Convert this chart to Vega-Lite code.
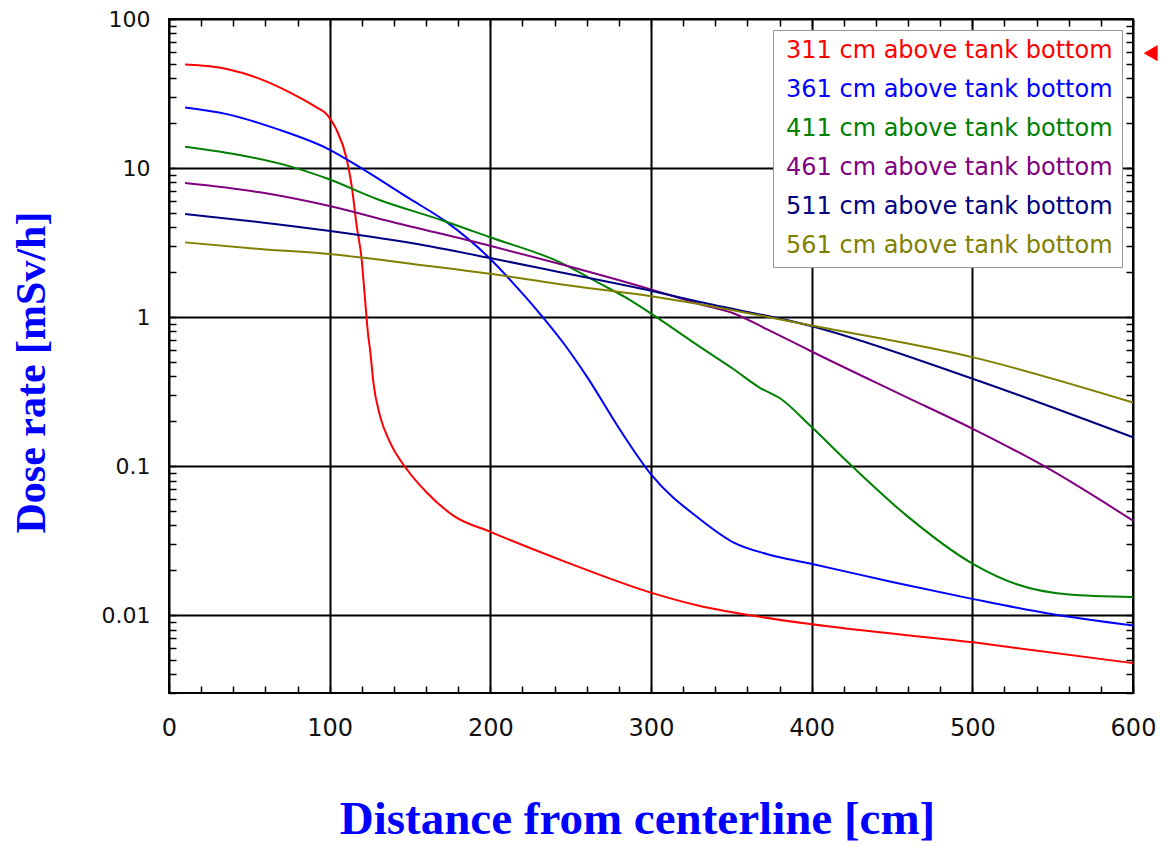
{
  "$schema": "https://vega.github.io/schema/vega-lite/v6.json",
  "width": 964,
  "height": 674,
  "autosize": {"type": "none"},
  "padding": {"left": 169, "top": 19, "right": 28, "bottom": 153},
  "background": "white",
  "config": {
    "view": {"stroke": "black", "strokeWidth": 2},
    "axis": {"domain": false, "labelOverlap": false, "labelBound": false, "labelFlush": false}
  },
  "datasets": {
    "curves": [
      {"x": 10, "y": 49.5, "s": "311 cm above tank bottom"},
      {"x": 36, "y": 46.2, "s": "311 cm above tank bottom"},
      {"x": 57, "y": 39.5, "s": "311 cm above tank bottom"},
      {"x": 77, "y": 31.4, "s": "311 cm above tank bottom"},
      {"x": 90, "y": 26.2, "s": "311 cm above tank bottom"},
      {"x": 99, "y": 22.4, "s": "311 cm above tank bottom"},
      {"x": 104, "y": 18.3, "s": "311 cm above tank bottom"},
      {"x": 110.6, "y": 11.5, "s": "311 cm above tank bottom"},
      {"x": 113.7, "y": 7.6, "s": "311 cm above tank bottom"},
      {"x": 116.8, "y": 4.1, "s": "311 cm above tank bottom"},
      {"x": 119.9, "y": 2.45, "s": "311 cm above tank bottom"},
      {"x": 122, "y": 1.32, "s": "311 cm above tank bottom"},
      {"x": 124, "y": 0.75, "s": "311 cm above tank bottom"},
      {"x": 125.1, "y": 0.61, "s": "311 cm above tank bottom"},
      {"x": 127.2, "y": 0.365, "s": "311 cm above tank bottom"},
      {"x": 131.3, "y": 0.218, "s": "311 cm above tank bottom"},
      {"x": 137.6, "y": 0.144, "s": "311 cm above tank bottom"},
      {"x": 147.9, "y": 0.0955, "s": "311 cm above tank bottom"},
      {"x": 160.4, "y": 0.0665, "s": "311 cm above tank bottom"},
      {"x": 177, "y": 0.0465, "s": "311 cm above tank bottom"},
      {"x": 200.8, "y": 0.0359, "s": "311 cm above tank bottom"},
      {"x": 247.5, "y": 0.0226, "s": "311 cm above tank bottom"},
      {"x": 299.4, "y": 0.0142, "s": "311 cm above tank bottom"},
      {"x": 330.5, "y": 0.0115, "s": "311 cm above tank bottom"},
      {"x": 363.7, "y": 0.0099, "s": "311 cm above tank bottom"},
      {"x": 399, "y": 0.0087, "s": "311 cm above tank bottom"},
      {"x": 500.6, "y": 0.00656, "s": "311 cm above tank bottom"},
      {"x": 600, "y": 0.00476, "s": "311 cm above tank bottom"},

      {"x": 10, "y": 25.5, "s": "361 cm above tank bottom"},
      {"x": 36, "y": 23.0, "s": "361 cm above tank bottom"},
      {"x": 67, "y": 18.3, "s": "361 cm above tank bottom"},
      {"x": 99.2, "y": 13.4, "s": "361 cm above tank bottom"},
      {"x": 118.9, "y": 10.1, "s": "361 cm above tank bottom"},
      {"x": 150, "y": 6.2, "s": "361 cm above tank bottom"},
      {"x": 172, "y": 4.4, "s": "361 cm above tank bottom"},
      {"x": 200, "y": 2.45, "s": "361 cm above tank bottom"},
      {"x": 215, "y": 1.65, "s": "361 cm above tank bottom"},
      {"x": 230, "y": 1.08, "s": "361 cm above tank bottom"},
      {"x": 245, "y": 0.68, "s": "361 cm above tank bottom"},
      {"x": 260, "y": 0.40, "s": "361 cm above tank bottom"},
      {"x": 280, "y": 0.18, "s": "361 cm above tank bottom"},
      {"x": 300, "y": 0.088, "s": "361 cm above tank bottom"},
      {"x": 330.5, "y": 0.044, "s": "361 cm above tank bottom"},
      {"x": 351.2, "y": 0.0308, "s": "361 cm above tank bottom"},
      {"x": 372, "y": 0.0257, "s": "361 cm above tank bottom"},
      {"x": 399, "y": 0.0222, "s": "361 cm above tank bottom"},
      {"x": 450.8, "y": 0.0166, "s": "361 cm above tank bottom"},
      {"x": 500.6, "y": 0.0128, "s": "361 cm above tank bottom"},
      {"x": 548.3, "y": 0.0102, "s": "361 cm above tank bottom"},
      {"x": 600, "y": 0.0085, "s": "361 cm above tank bottom"},

      {"x": 10, "y": 13.9, "s": "411 cm above tank bottom"},
      {"x": 46.3, "y": 12.1, "s": "411 cm above tank bottom"},
      {"x": 77.4, "y": 10.1, "s": "411 cm above tank bottom"},
      {"x": 99.2, "y": 8.44, "s": "411 cm above tank bottom"},
      {"x": 129.3, "y": 6.2, "s": "411 cm above tank bottom"},
      {"x": 170.7, "y": 4.43, "s": "411 cm above tank bottom"},
      {"x": 199.8, "y": 3.43, "s": "411 cm above tank bottom"},
      {"x": 243.4, "y": 2.33, "s": "411 cm above tank bottom"},
      {"x": 268, "y": 1.68, "s": "411 cm above tank bottom"},
      {"x": 287, "y": 1.3, "s": "411 cm above tank bottom"},
      {"x": 301.5, "y": 1.03, "s": "411 cm above tank bottom"},
      {"x": 330.5, "y": 0.63, "s": "411 cm above tank bottom"},
      {"x": 351.2, "y": 0.448, "s": "411 cm above tank bottom"},
      {"x": 367.8, "y": 0.335, "s": "411 cm above tank bottom"},
      {"x": 380.3, "y": 0.285, "s": "411 cm above tank bottom"},
      {"x": 399, "y": 0.187, "s": "411 cm above tank bottom"},
      {"x": 425.9, "y": 0.098, "s": "411 cm above tank bottom"},
      {"x": 459.1, "y": 0.0465, "s": "411 cm above tank bottom"},
      {"x": 500.6, "y": 0.022, "s": "411 cm above tank bottom"},
      {"x": 527.6, "y": 0.0161, "s": "411 cm above tank bottom"},
      {"x": 558.7, "y": 0.0138, "s": "411 cm above tank bottom"},
      {"x": 600, "y": 0.0132, "s": "411 cm above tank bottom"},

      {"x": 10, "y": 7.93, "s": "461 cm above tank bottom"},
      {"x": 56.6, "y": 6.87, "s": "461 cm above tank bottom"},
      {"x": 99.2, "y": 5.58, "s": "461 cm above tank bottom"},
      {"x": 139.6, "y": 4.33, "s": "461 cm above tank bottom"},
      {"x": 199.8, "y": 3.01, "s": "461 cm above tank bottom"},
      {"x": 243.4, "y": 2.27, "s": "461 cm above tank bottom"},
      {"x": 299.4, "y": 1.54, "s": "461 cm above tank bottom"},
      {"x": 330.5, "y": 1.22, "s": "461 cm above tank bottom"},
      {"x": 351.2, "y": 1.06, "s": "461 cm above tank bottom"},
      {"x": 372, "y": 0.83, "s": "461 cm above tank bottom"},
      {"x": 399, "y": 0.594, "s": "461 cm above tank bottom"},
      {"x": 455, "y": 0.304, "s": "461 cm above tank bottom"},
      {"x": 500.6, "y": 0.177, "s": "461 cm above tank bottom"},
      {"x": 544.2, "y": 0.1005, "s": "461 cm above tank bottom"},
      {"x": 600, "y": 0.043, "s": "461 cm above tank bottom"},

      {"x": 10, "y": 4.91, "s": "511 cm above tank bottom"},
      {"x": 56.6, "y": 4.33, "s": "511 cm above tank bottom"},
      {"x": 99.2, "y": 3.79, "s": "511 cm above tank bottom"},
      {"x": 160.4, "y": 3.01, "s": "511 cm above tank bottom"},
      {"x": 199.8, "y": 2.49, "s": "511 cm above tank bottom"},
      {"x": 243.4, "y": 2.0, "s": "511 cm above tank bottom"},
      {"x": 300, "y": 1.5, "s": "511 cm above tank bottom"},
      {"x": 330.5, "y": 1.26, "s": "511 cm above tank bottom"},
      {"x": 399, "y": 0.875, "s": "511 cm above tank bottom"},
      {"x": 500.6, "y": 0.384, "s": "511 cm above tank bottom"},
      {"x": 600, "y": 0.156, "s": "511 cm above tank bottom"},

      {"x": 10, "y": 3.17, "s": "561 cm above tank bottom"},
      {"x": 56.6, "y": 2.86, "s": "561 cm above tank bottom"},
      {"x": 99.2, "y": 2.65, "s": "561 cm above tank bottom"},
      {"x": 160.4, "y": 2.21, "s": "561 cm above tank bottom"},
      {"x": 199.8, "y": 1.95, "s": "561 cm above tank bottom"},
      {"x": 243.4, "y": 1.66, "s": "561 cm above tank bottom"},
      {"x": 300, "y": 1.38, "s": "561 cm above tank bottom"},
      {"x": 330.5, "y": 1.22, "s": "561 cm above tank bottom"},
      {"x": 399, "y": 0.88, "s": "561 cm above tank bottom"},
      {"x": 500.6, "y": 0.536, "s": "561 cm above tank bottom"},
      {"x": 600, "y": 0.267, "s": "561 cm above tank bottom"}
    ],
    "arrow": [{"x": 611, "y": 59}]
  },
  "layer": [
    {
      "data": {"name": "curves"},
      "mark": {"type": "line", "strokeWidth": 2, "interpolate": "monotone"},
      "encoding": {
        "x": {
          "field": "x", "type": "quantitative",
          "scale": {"domain": [0, 600], "nice": false, "zero": false},
          "axis": {
            "orient": "bottom",
            "values": [0, 100, 200, 300, 400, 500, 600],
            "grid": true, "gridColor": "black", "gridWidth": 2,
            "ticks": false,
            "labelFont": "DejaVu Sans", "labelFontSize": 24, "labelColor": "#111", "labelPadding": 23,
            "title": "Distance from centerline [cm]",
            "titleFont": "Liberation Serif", "titleFontSize": 47, "titleFontWeight": "bold", "titleColor": "#0000ff",
            "titleX": 468, "titleY": 140, "titleAlign": "center", "titleBaseline": "alphabetic"
          }
        },
        "y": {
          "field": "y", "type": "quantitative",
          "scale": {"type": "log", "domain": [0.003, 100], "nice": false},
          "axis": {
            "orient": "left",
            "values": [0.01, 0.1, 1, 10, 100],
            "grid": true, "gridColor": "black", "gridWidth": 2,
            "ticks": false,
            "labelExpr": "toString(datum.value)",
            "labelFont": "DejaVu Sans", "labelFontSize": 22, "labelColor": "#111", "labelPadding": 19,
            "title": "Dose rate [mSv/h]",
            "titleFont": "Liberation Serif", "titleFontSize": 42, "titleFontWeight": "bold", "titleColor": "#0000ff",
            "titleX": -125, "titleY": 353, "titleAngle": 270, "titleAlign": "center", "titleBaseline": "alphabetic"
          }
        },
        "color": {
          "field": "s", "type": "nominal",
          "scale": {
            "domain": ["311 cm above tank bottom", "361 cm above tank bottom", "411 cm above tank bottom", "461 cm above tank bottom", "511 cm above tank bottom", "561 cm above tank bottom"],
            "range": ["#ff0000", "#0000ff", "#008000", "#800080", "#000080", "#808000"]
          },
          "legend": {
            "orient": "none", "legendX": 604, "legendY": 11, "direction": "vertical",
            "title": null,
            "symbolSize": 0, "symbolOpacity": 0, "symbolStrokeWidth": 0, "labelOffset": -20,
            "labelFont": "DejaVu Sans", "labelFontSize": 24, "labelLimit": 400,
            "rowPadding": 15, "padding": 9,
            "strokeColor": "#999999", "fillColor": "white",
            "encode": {"labels": {"update": {"fill": {"signal": "scale('color', datum.value)"}}}}
          }
        }
      }
    },
    {
      "data": {"name": "curves"},
      "mark": {"type": "line", "opacity": 0},
      "encoding": {
        "x": {
          "field": "x", "type": "quantitative",
          "axis": {
            "orient": "top", "offset": -7,
            "values": [0,20,40,60,80,100,120,140,160,180,200,220,240,260,280,300,320,340,360,380,400,420,440,460,480,500,520,540,560,580,600],
            "grid": false, "labels": false, "title": null,
            "tickSize": 7, "tickColor": "black", "tickWidth": 1.5
          }
        },
        "y": {
          "field": "y", "type": "quantitative",
          "axis": {
            "orient": "right", "offset": -7,
            "values": [0.003,0.004,0.005,0.006,0.007,0.008,0.009,0.01,0.02,0.03,0.04,0.05,0.06,0.07,0.08,0.09,0.1,0.2,0.3,0.4,0.5,0.6,0.7,0.8,0.9,1,2,3,4,5,6,7,8,9,10,20,30,40,50,60,70,80,90,100],
            "grid": false, "labels": false, "title": null,
            "tickSize": 7, "tickColor": "black", "tickWidth": 1.5
          }
        }
      }
    },
    {
      "data": {"name": "curves"},
      "mark": {"type": "line", "opacity": 0},
      "encoding": {
        "x": {
          "field": "x", "type": "quantitative",
          "axis": {
            "orient": "bottom", "offset": -7,
            "values": [0,20,40,60,80,100,120,140,160,180,200,220,240,260,280,300,320,340,360,380,400,420,440,460,480,500,520,540,560,580,600],
            "grid": false, "labels": false, "title": null,
            "tickSize": 7, "tickColor": "black", "tickWidth": 1.5
          }
        },
        "y": {
          "field": "y", "type": "quantitative",
          "axis": {
            "orient": "left", "offset": -7,
            "values": [0.003,0.004,0.005,0.006,0.007,0.008,0.009,0.01,0.02,0.03,0.04,0.05,0.06,0.07,0.08,0.09,0.1,0.2,0.3,0.4,0.5,0.6,0.7,0.8,0.9,1,2,3,4,5,6,7,8,9,10,20,30,40,50,60,70,80,90,100],
            "grid": false, "labels": false, "title": null,
            "tickSize": 7, "tickColor": "black", "tickWidth": 1.5
          }
        }
      }
    },
    {
      "data": {"name": "arrow"},
      "mark": {"type": "point", "shape": "triangle-left", "filled": true, "color": "#ff0000", "size": 260, "opacity": 1},
      "encoding": {
        "x": {"field": "x", "type": "quantitative", "axis": null},
        "y": {"field": "y", "type": "quantitative", "axis": null}
      }
    }
  ],
  "resolve": {"axis": {"x": "independent", "y": "independent"}}
}
